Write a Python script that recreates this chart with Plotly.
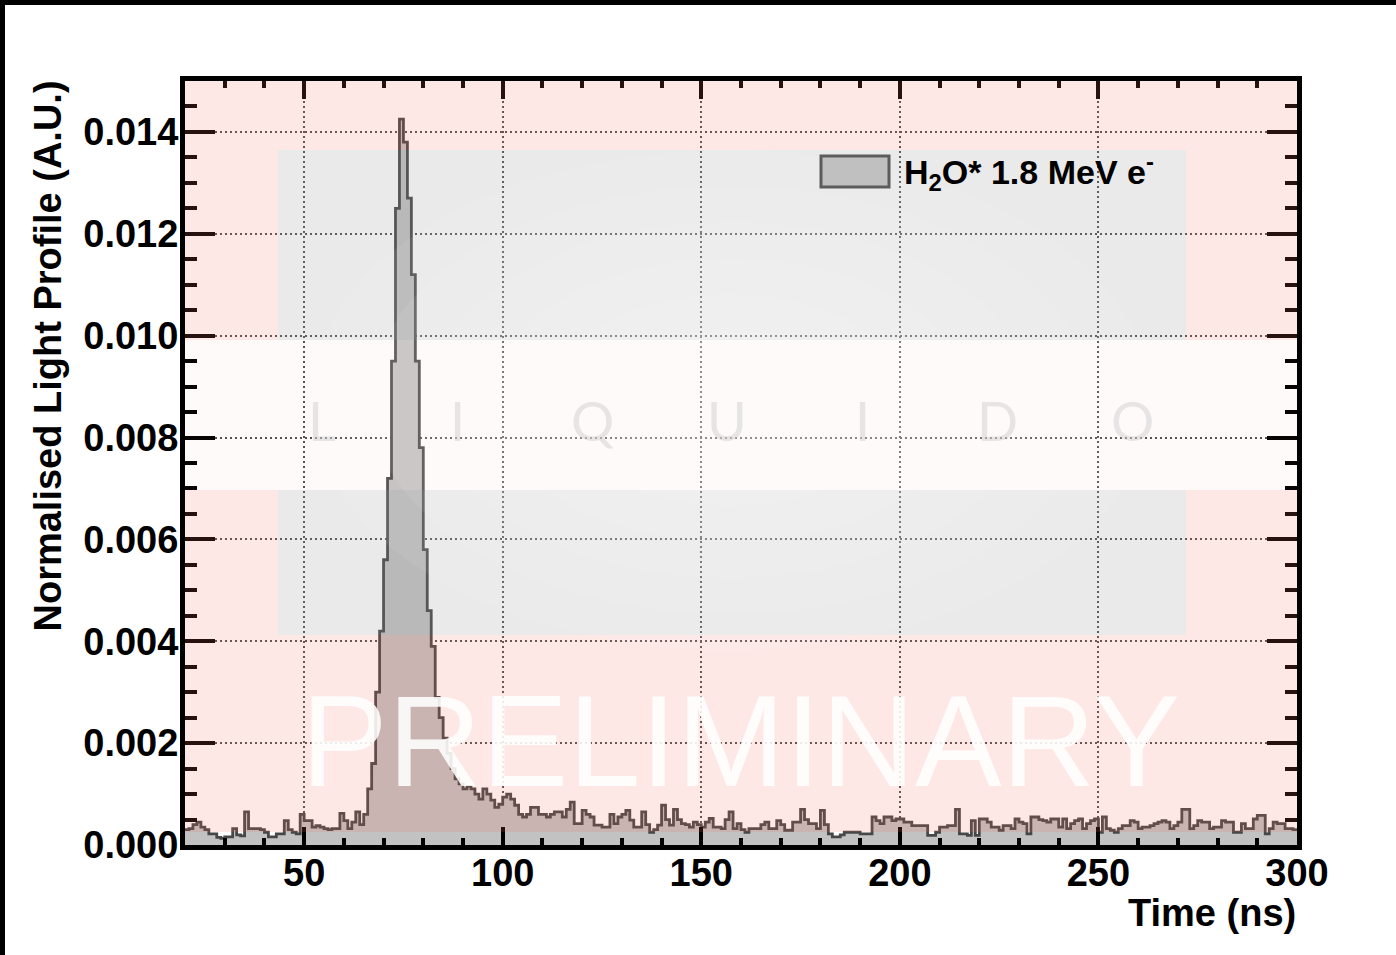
import numpy as np
import plotly.graph_objects as go

# ---------------- data ----------------
time_start_ns = 20
time_stop_ns = 300
bin_width_ns = 1
# normalised light profile per 1 ns bin, in units of 1e-5 (A.U.)
light_e5 = [
    30, 32, 40, 45, 35, 30, 22, 22, 15, 13,        # 20-29
    16, 16, 32, 20, 18, 65, 32, 32, 32, 30,        # 30-39
    25, 16, 16, 22, 22, 48, 30, 25, 22, 60,        # 40-49
    48, 48, 35, 38, 35, 32, 30, 32, 32, 62,        # 50-59
    48, 32, 45, 65, 40, 60, 110, 160, 300, 420,    # 60-69
    560, 720, 950, 1250, 1425, 1380, 1270, 1120, 950, 780,  # 70-79
    580, 460, 390, 290, 250, 210, 180, 150, 130, 120,       # 80-89
    110, 115, 110, 100, 90, 110, 100, 88, 74, 80,  # 90-99
    94, 100, 90, 78, 60, 55, 60, 74, 74, 60,       # 100-109
    60, 55, 60, 65, 65, 55, 70, 84, 42, 42,        # 110-119
    68, 60, 55, 39, 39, 35, 35, 60, 42, 55,        # 120-129
    60, 68, 49, 35, 35, 65, 40, 25, 30, 39,        # 130-139
    78, 50, 39, 70, 50, 42, 40, 35, 45, 40,        # 140-149
    35, 45, 52, 35, 35, 32, 50, 65, 32, 42,        # 150-159
    30, 25, 32, 32, 32, 40, 45, 32, 32, 48,        # 160-169
    40, 29, 29, 45, 45, 70, 50, 42, 42, 32,        # 170-179
    68, 40, 22, 16, 16, 20, 25, 25, 25, 25,        # 180-189
    22, 22, 22, 55, 48, 42, 55, 55, 48, 51,        # 190-199
    51, 45, 45, 38, 38, 38, 38, 19, 19, 25,        # 200-209
    35, 35, 38, 38, 70, 22, 22, 19, 48, 19,        # 210-219
    51, 51, 45, 35, 35, 29, 38, 38, 32, 51,        # 220-229
    45, 42, 22, 55, 55, 50, 48, 45, 51, 51,        # 230-239
    35, 51, 32, 42, 48, 51, 32, 42, 48, 51,        # 240-249
    25, 55, 32, 29, 25, 32, 38, 38, 48, 45,        # 250-259
    32, 35, 35, 38, 42, 45, 48, 45, 32, 38,        # 260-269
    45, 70, 70, 32, 38, 48, 45, 45, 32, 35,        # 270-279
    35, 48, 45, 45, 25, 25, 42, 32, 32, 51,        # 280-289
    58, 58, 22, 32, 45, 42, 42, 32, 32, 30,        # 290-299
]
x_tick_labels = ["50", "100", "150", "200", "250", "300"]
series_name = "H<sub>2</sub>O* 1.8 MeV e<sup>-</sup>"
y_title = "Normalised Light Profile (A.U.)"
x_title = "Time (ns)"

values = np.array(light_e5, dtype=float) * 1e-5
edges = np.arange(time_start_ns, time_stop_ns + bin_width_ns, bin_width_ns)
y_steps = np.append(values, values[-1])

# ---------------- geometry ----------------
W, H = 1396, 955
L, R, T, B = 185, 99, 81, 110
PW, PH = W - L - R, H - T - B


def px(x):
    return (x - L) / PW


def py(y):
    return (H - B - y) / PH


fig = go.Figure()
fig.add_trace(go.Scatter(
    x=edges, y=y_steps, mode="lines", line_shape="hv",
    line=dict(color="#474747", width=2.8),
    fill="tozeroy", fillcolor="#c2c2c2",
    name=series_name, showlegend=False, hoverinfo="skip",
))

shapes = []


def rect(x0, y0, x1, y1, color, layer="above", line=None, opacity=1.0):
    shapes.append(dict(type="rect", xref="paper", yref="paper",
                       x0=px(x0), x1=px(x1), y0=py(y1), y1=py(y0),
                       fillcolor=color, layer=layer, opacity=opacity,
                       line=line or dict(width=0)))


PINK = "rgba(240,110,100,0.16)"
GRAY = "rgba(150,150,150,0.2)"
# pink watermark overlay (avoids grey box and white band)
rect(185, 81, 1297, 150, PINK)
rect(185, 150, 278, 340, PINK)
rect(1186, 150, 1297, 340, PINK)
rect(185, 490, 278, 635, PINK)
rect(1186, 490, 1297, 635, PINK)
rect(185, 635, 1297, 832, PINK)
rect(185, 340, 1297, 490, "rgba(240,110,100,0.035)")
# grey box
rect(278, 150, 1186, 340, GRAY)
rect(278, 490, 1186, 635, GRAY)
# soft glow (many faint layers)
for k in range(6):
    rx = 420 - k * 60
    ry = 250 - k * 36
    shapes.append(dict(type="circle", xref="paper", yref="paper",
                       x0=px(730 - rx), x1=px(730 + rx),
                       y0=py(400 + ry), y1=py(400 - ry),
                       fillcolor="white", opacity=0.07, layer="above",
                       line=dict(width=0)))

# legend swatch
shapes.append(dict(type="rect", xref="paper", yref="paper",
                   x0=px(821), x1=px(889), y0=py(187), y1=py(156),
                   fillcolor="#c0c0c0", line=dict(color="#5c5c5c", width=3),
                   layer="above"))

# slide background strips (top / left)
shapes.append(dict(type="rect", xref="paper", yref="paper",
                   x0=px(0), x1=px(W), y0=py(5), y1=py(0),
                   fillcolor="black", line=dict(width=0), layer="above"))
shapes.append(dict(type="rect", xref="paper", yref="paper",
                   x0=px(0), x1=px(5), y0=py(H), y1=py(0),
                   fillcolor="black", line=dict(width=0), layer="above"))

annotations = []
# watermark letters
for i, ch in enumerate("LIQUIDO"):
    annotations.append(dict(
        x=px(322 + i * 135), y=py(420), xref="paper", yref="paper",
        text=ch, showarrow=False, xanchor="center", yanchor="middle",
        font=dict(family="Lato, Liberation Sans", size=54, color="rgba(205,205,205,0.5)")))
annotations.append(dict(
    x=px(740), y=py(741), xref="paper", yref="paper", text="PRELIMINARY",
    showarrow=False, xanchor="center", yanchor="middle",
    font=dict(family="Liberation Sans", size=130, color="rgba(255,255,255,0.88)")))
# legend text
annotations.append(dict(
    x=px(902), y=py(172), xref="paper", yref="paper", text=series_name,
    showarrow=False, xanchor="left", yanchor="middle",
    font=dict(family="Liberation Sans", size=34, color="black", weight="bold")))
# axis titles
annotations.append(dict(
    x=px(48), y=py(79), xref="paper", yref="paper", text=y_title,
    showarrow=False, textangle=-90, xanchor="center", yanchor="top",
    font=dict(family="Liberation Sans", size=38, color="black", weight="bold")))
annotations.append(dict(
    x=px(1298), y=py(913), xref="paper", yref="paper", text=x_title,
    showarrow=False, xanchor="right", yanchor="middle",
    font=dict(family="Liberation Sans", size=38, color="black", weight="bold")))

tickfont = dict(family="Liberation Sans", size=38, color="black", weight="bold")
fig.update_layout(
    width=W, height=H,
    margin=dict(l=L, r=R, t=T, b=B, pad=0),
    paper_bgcolor="white", plot_bgcolor="white",
    shapes=shapes, annotations=annotations,
    showlegend=False,
    xaxis=dict(
        range=[time_start_ns, time_stop_ns],
        tickmode="array", tickvals=[int(t) for t in x_tick_labels], ticktext=x_tick_labels,
        ticks="inside", ticklen=18, tickwidth=4, tickcolor="black",
        minor=dict(ticks="inside", ticklen=7, tickwidth=4, tickcolor="black",
                   dtick=10, tick0=0, showgrid=False),
        showline=True, linewidth=5, linecolor="black", mirror="ticks",
        showgrid=True, gridcolor="#505050", gridwidth=1.6, griddash="2px,3px",
        tickfont=tickfont, zeroline=False, ticklabelstandoff=-10,
    ),
    yaxis=dict(
        range=[0, 0.015], tick0=0, dtick=0.002, tickformat=".3f",
        ticks="inside", ticklen=30, tickwidth=4, tickcolor="black",
        minor=dict(ticks="inside", ticklen=12, tickwidth=4, tickcolor="black",
                   dtick=0.0005, tick0=0, showgrid=False),
        showline=True, linewidth=5, linecolor="black", mirror="ticks",
        showgrid=True, gridcolor="#505050", gridwidth=1.6, griddash="2px,3px",
        tickfont=tickfont, zeroline=False, ticklabelstandoff=-6,
    ),
)

fig.write_html("out.html")
